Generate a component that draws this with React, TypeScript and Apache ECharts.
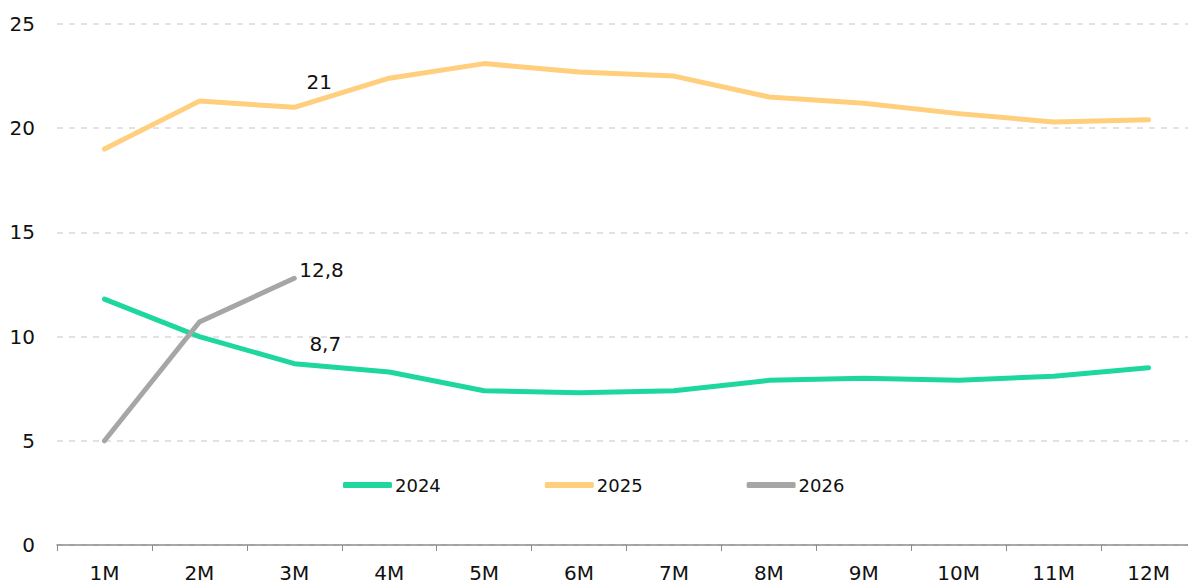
import React, { useEffect, useRef } from "react";
import * as echarts from "echarts";

const categories = ["1M", "2M", "3M", "4M", "5M", "6M", "7M", "8M", "9M", "10M", "11M", "12M"];
const s2024 = [11.8, 10.0, 8.7, 8.3, 7.4, 7.3, 7.4, 7.9, 8.0, 7.9, 8.1, 8.5];
const s2025 = [19.0, 21.3, 21.0, 22.4, 23.1, 22.7, 22.5, 21.5, 21.2, 20.7, 20.3, 20.4];
const s2026 = [5.0, 10.7, 12.8];
const seriesNames = ["2024", "2025", "2026"];
const colors = ["#1ED79F", "#FFCF7D", "#A6A6A6"];

const FONT = "DejaVu Sans";
const fmt = (v: number) => String(v).replace(".", ",");

export default function App() {
  const ref = useRef<HTMLDivElement>(null);
  useEffect(() => {
    const chart = echarts.init(ref.current!, null, { renderer: "svg" });
    const lbl = (offset: number[], position: string = "inside") => ({
      show: true,
      position,
      offset,
      formatter: (p: any) => fmt(p.value),
      color: "#111",
      fontFamily: FONT,
      fontSize: 20,
    });
    const d2024 = s2024.map((v, i) => (i === 2 ? { value: v, label: lbl([31, -20]) } : v));
    const d2025 = s2025.map((v, i) => (i === 2 ? { value: v, label: lbl([25, -25]) } : v));
    const d2026 = s2026.map((v, i) => (i === 2 ? { value: v, label: lbl([0, -8], "right") } : v));
    const mk = (name: string, data: any[], color: string) => ({
      name,
      type: "line",
      data,
      showSymbol: true,
      symbol: "circle",
      symbolSize: 0,
      smooth: false,
      lineStyle: { width: 5, color, cap: "round", join: "round" },
      itemStyle: { color },
      label: { show: false },
      emphasis: { disabled: true },
    });
    chart.setOption({
      animation: false,
      grid: { left: 57, right: 0, top: 24, bottom: 39, containLabel: false },
      legend: {
        data: seriesNames.map((n, i) => ({ name: n, icon: "roundRect", itemStyle: { color: colors[i] } })),
        left: 338,
        top: 471,
        itemWidth: 49,
        itemHeight: 6,
        itemGap: 104,
        textStyle: { fontFamily: FONT, fontSize: 18, color: "#111", padding: [0, 0, 0, -2] },
      },
      xAxis: {
        type: "category",
        data: categories,
        boundaryGap: true,
        axisLine: { lineStyle: { color: "#8c8c8c", width: 1.5 } },
        axisTick: { show: true, length: 6, lineStyle: { color: "#8c8c8c" } },
        axisLabel: { color: "#111", fontFamily: FONT, fontSize: 20, margin: 18 },
      },
      yAxis: {
        type: "value",
        min: 0,
        max: 25,
        interval: 5,
        axisLine: { show: false },
        axisTick: { show: false },
        axisLabel: { color: "#111", fontFamily: FONT, fontSize: 20, margin: 22 },
        splitLine: { lineStyle: { color: "#d9d9d9", type: [6, 6], width: 1.5 } },
      },
      series: [
        mk(seriesNames[0], d2024, colors[0]),
        mk(seriesNames[1], d2025, colors[1]),
        mk(seriesNames[2], d2026, colors[2]),
      ],
    });
    return () => chart.dispose();
  }, []);
  return (
    <div
      ref={ref}
      style={{ position: "fixed", left: 0, top: 0, width: 1196, height: 584, background: "#fff" }}
    />
  );
}
